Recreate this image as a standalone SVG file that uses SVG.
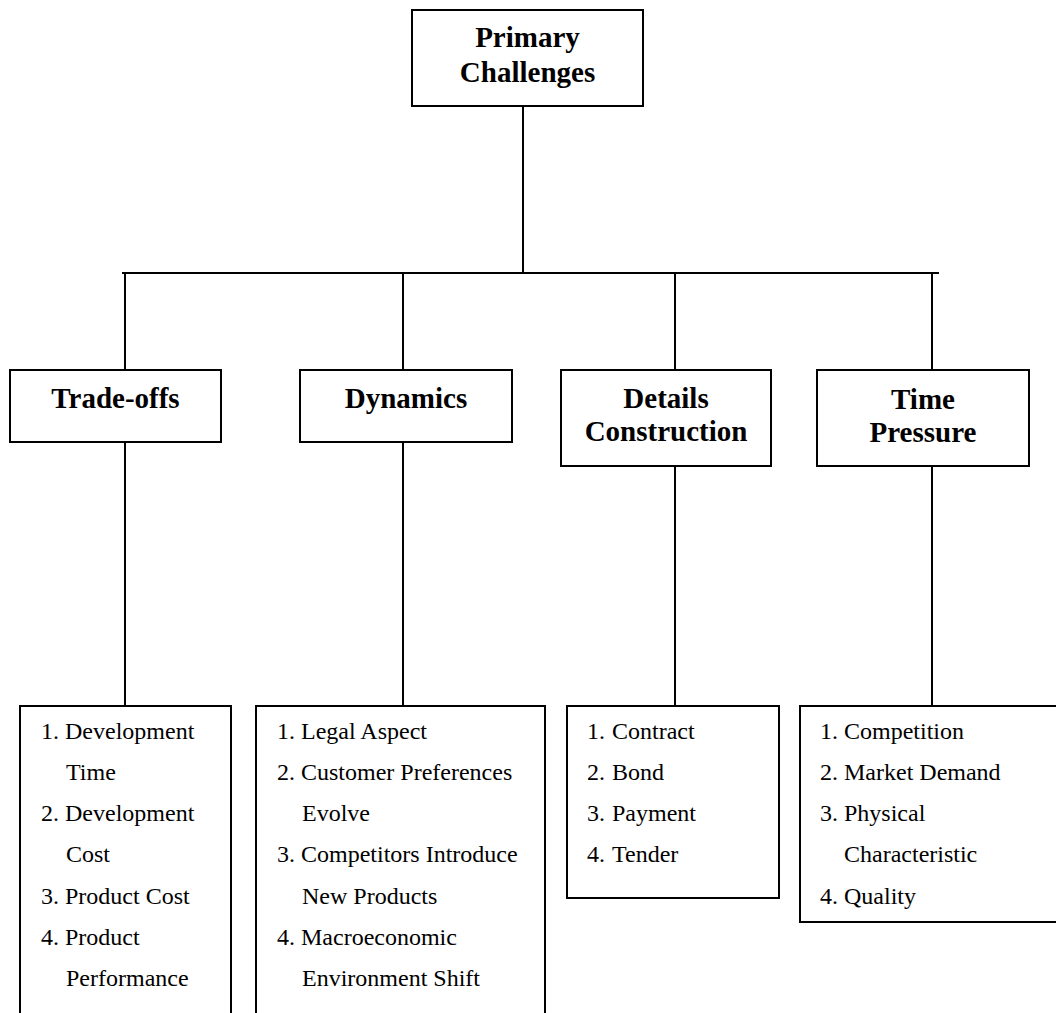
<svg xmlns="http://www.w3.org/2000/svg" width="1056" height="1013" viewBox="0 0 1056 1013">
<style>
.box{fill:#fff;stroke:#000;stroke-width:2}
.h{font-family:"Liberation Serif","Times New Roman",serif;font-weight:bold;font-size:29px;fill:#000;text-anchor:middle}
.t{font-family:"Liberation Serif","Times New Roman",serif;font-size:24px;fill:#000}
.c{stroke:#000;stroke-width:2;fill:none}
</style>
<rect width="1056" height="1013" fill="#fff"/>
<g id="connectors">
<line class="c" x1="523" y1="106" x2="523" y2="273"/>
<line class="c" x1="122" y1="273" x2="939" y2="273"/>
<line class="c" x1="125" y1="273" x2="125" y2="370"/>
<line class="c" x1="403" y1="273" x2="403" y2="370"/>
<line class="c" x1="675" y1="273" x2="675" y2="370"/>
<line class="c" x1="932" y1="273" x2="932" y2="370"/>
<line class="c" x1="125" y1="442" x2="125" y2="706"/>
<line class="c" x1="403" y1="442" x2="403" y2="706"/>
<line class="c" x1="675" y1="466" x2="675" y2="706"/>
<line class="c" x1="932" y1="466" x2="932" y2="706"/>
</g>
<g id="primary">
<rect class="box" x="412" y="10" width="231" height="96"/>
<text class="h" x="527.5" y="47">Primary</text>
<text class="h" x="527.5" y="82">Challenges</text>
</g>
<g id="tradeoffs">
<rect class="box" x="10" y="370" width="211" height="72"/>
<text class="h" x="115.5" y="408">Trade-offs</text>
</g>
<g id="dynamics">
<rect class="box" x="300" y="370" width="212" height="72"/>
<text class="h" x="406" y="408">Dynamics</text>
</g>
<g id="details">
<rect class="box" x="561" y="370" width="210" height="96"/>
<text class="h" x="666" y="408">Details</text>
<text class="h" x="666" y="441">Construction</text>
</g>
<g id="time">
<rect class="box" x="817" y="370" width="212" height="96"/>
<text class="h" x="923" y="409">Time</text>
<text class="h" x="923" y="442">Pressure</text>
</g>
<g id="tradeoffs-list">
<rect class="box" x="20" y="706" width="211" height="320"/>
<text class="t" x="41" y="739">1.</text><text class="t" x="65" y="739">Development</text>
<text class="t" x="66" y="780">Time</text>
<text class="t" x="41" y="821">2.</text><text class="t" x="65" y="821">Development</text>
<text class="t" x="66" y="862">Cost</text>
<text class="t" x="41" y="904">3.</text><text class="t" x="65" y="904">Product Cost</text>
<text class="t" x="41" y="945">4.</text><text class="t" x="65" y="945">Product</text>
<text class="t" x="66" y="986">Performance</text>
</g>
<g id="dynamics-list">
<rect class="box" x="256" y="706" width="289" height="320"/>
<text class="t" x="277" y="739">1.</text><text class="t" x="301" y="739">Legal Aspect</text>
<text class="t" x="277" y="780">2.</text><text class="t" x="301" y="780">Customer Preferences</text>
<text class="t" x="302" y="821">Evolve</text>
<text class="t" x="277" y="862">3.</text><text class="t" x="301" y="862">Competitors Introduce</text>
<text class="t" x="302" y="904">New Products</text>
<text class="t" x="277" y="945">4.</text><text class="t" x="301" y="945">Macroeconomic</text>
<text class="t" x="302" y="986">Environment Shift</text>
</g>
<g id="details-list">
<rect class="box" x="567" y="706" width="212" height="192"/>
<text class="t" x="587" y="739">1.</text><text class="t" x="612" y="739">Contract</text>
<text class="t" x="587" y="780">2.</text><text class="t" x="612" y="780">Bond</text>
<text class="t" x="587" y="821">3.</text><text class="t" x="612" y="821">Payment</text>
<text class="t" x="587" y="862">4.</text><text class="t" x="612" y="862">Tender</text>
</g>
<g id="time-list">
<rect class="box" x="800" y="706" width="270" height="216"/>
<text class="t" x="820" y="739">1.</text><text class="t" x="844" y="739">Competition</text>
<text class="t" x="820" y="780">2.</text><text class="t" x="844" y="780">Market Demand</text>
<text class="t" x="820" y="821">3.</text><text class="t" x="844" y="821">Physical</text>
<text class="t" x="844" y="862">Characteristic</text>
<text class="t" x="820" y="904">4.</text><text class="t" x="844" y="904">Quality</text>
</g>
</svg>
